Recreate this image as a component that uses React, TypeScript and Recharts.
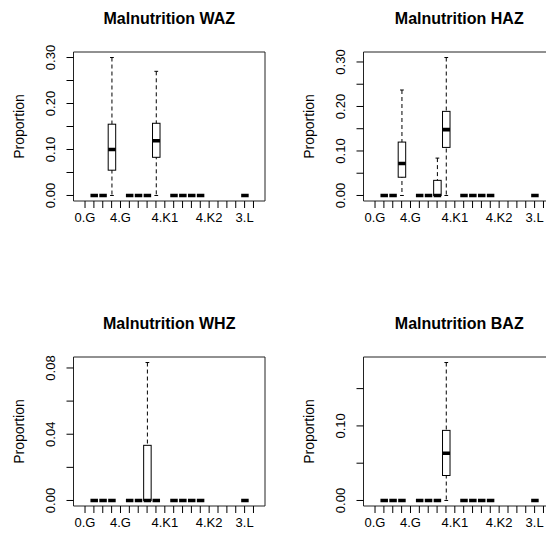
import { ComposedChart, Bar, XAxis, YAxis, CartesianGrid } from 'recharts';

const n = null;

const categories = [
  '0.G', '1.G', '2.G', '3.G', '4.G',
  '0.K1', '1.K1', '2.K1', '3.K1', '4.K1',
  '0.K2', '1.K2', '2.K2', '3.K2', '4.K2',
  '0.L', '1.L', '2.L', '3.L', '4.L'
];
const shownLabels = ['0.G', '4.G', '4.K1', '4.K2', '3.L'];

// five-number summaries per category (null = no observations)
const wazMin = [n, 0, 0, 0, n, 0, 0, 0, 0, n, 0, 0, 0, 0, n, n, n, n, 0, n];
const wazQ1 = [n, 0, 0, 0.055, n, 0, 0, 0, 0.083, n, 0, 0, 0, 0, n, n, n, n, 0, n];
const wazMed = [n, 0, 0, 0.1, n, 0, 0, 0, 0.119, n, 0, 0, 0, 0, n, n, n, n, 0, n];
const wazQ3 = [n, 0, 0, 0.155, n, 0, 0, 0, 0.157, n, 0, 0, 0, 0, n, n, n, n, 0, n];
const wazMax = [n, 0, 0, 0.3, n, 0, 0, 0, 0.27, n, 0, 0, 0, 0, n, n, n, n, 0, n];

const hazMin = [n, 0, 0, 0, n, 0, 0, 0, 0, n, 0, 0, 0, 0, n, n, n, n, 0, n];
const hazQ1 = [n, 0, 0, 0.041, n, 0, 0, 0, 0.108, n, 0, 0, 0, 0, n, n, n, n, 0, n];
const hazMed = [n, 0, 0, 0.072, n, 0, 0, 0, 0.148, n, 0, 0, 0, 0, n, n, n, n, 0, n];
const hazQ3 = [n, 0, 0, 0.12, n, 0, 0, 0.034, 0.189, n, 0, 0, 0, 0, n, n, n, n, 0, n];
const hazMax = [n, 0, 0, 0.237, n, 0, 0, 0.084, 0.31, n, 0, 0, 0, 0, n, n, n, n, 0, n];

const whzMin = [n, 0, 0, 0, n, 0, 0, 0, 0, n, 0, 0, 0, 0, n, n, n, n, 0, n];
const whzQ1 = [n, 0, 0, 0, n, 0, 0, 0, 0, n, 0, 0, 0, 0, n, n, n, n, 0, n];
const whzMed = [n, 0, 0, 0, n, 0, 0, 0, 0, n, 0, 0, 0, 0, n, n, n, n, 0, n];
const whzQ3 = [n, 0, 0, 0, n, 0, 0, 0.0333, 0, n, 0, 0, 0, 0, n, n, n, n, 0, n];
const whzMax = [n, 0, 0, 0, n, 0, 0, 0.0833, 0, n, 0, 0, 0, 0, n, n, n, n, 0, n];

const bazMin = [n, 0, 0, 0, n, 0, 0, 0, 0, n, 0, 0, 0, 0, n, n, n, n, 0, n];
const bazQ1 = [n, 0, 0, 0, n, 0, 0, 0, 0.0335, n, 0, 0, 0, 0, n, n, n, n, 0, n];
const bazMed = [n, 0, 0, 0, n, 0, 0, 0, 0.0634, n, 0, 0, 0, 0, n, n, n, n, 0, n];
const bazQ3 = [n, 0, 0, 0, n, 0, 0, 0, 0.094, n, 0, 0, 0, 0, n, n, n, n, 0, n];
const bazMax = [n, 0, 0, 0, n, 0, 0, 0, 0.185, n, 0, 0, 0, 0, n, n, n, n, 0, n];

const wazTicks = [0, 0.05, 0.1, 0.15, 0.2, 0.25, 0.3];
const wazLabels = [0, 0.1, 0.2, 0.3];
const hazTicks = [0, 0.05, 0.1, 0.15, 0.2, 0.25, 0.3];
const hazLabels = [0, 0.1, 0.2, 0.3];
const whzTicks = [0, 0.02, 0.04, 0.06, 0.08];
const whzLabels = [0, 0.04, 0.08];
const bazTicks = [0, 0.05, 0.1, 0.15];
const bazLabels = [0, 0.1];

const FONT = '"Liberation Sans", Arial, Helvetica, sans-serif';
const W = 290;
const H = 305;
const M = { top: 52, right: 25, left: 0, bottom: 74 };
const Y_W = 73.5;

const BoxShape = (props: any) => {
  const { x, y, width, height, payload } = props;
  if (!payload || payload.max == null || !Number.isFinite(y) || !Number.isFinite(x)) return <g />;
  const { min, q1, med, q3, max } = payload;
  const hgt = Number.isFinite(height) ? height : 0;
  const top = Math.min(y, y + hgt);
  const bot = Math.max(y, y + hgt);
  const span = max - min;
  const py = (v: number) => (span > 0 ? bot - ((bot - top) * (v - min)) / span : bot);
  const cx = x + width / 2;
  const half = width / 4;
  return (
    <g>
      <line x1={cx} x2={cx} y1={py(max)} y2={py(min)} stroke="#000" strokeDasharray="4 3" />
      <line x1={cx - half} x2={cx + half} y1={py(max)} y2={py(max)} stroke="#000" />
      <line x1={cx - half} x2={cx + half} y1={py(min)} y2={py(min)} stroke="#000" />
      <rect x={x} y={py(q3)} width={width} height={py(q1) - py(q3)} fill="#fff" stroke="#000" />
      <line x1={x} x2={x + width} y1={py(med)} y2={py(med)} stroke="#000" strokeWidth={3.6} />
    </g>
  );
};

const YTick = (props: any) => {
  const { x, y, payload, labels } = props;
  const v = payload.value;
  if (!labels.some((l: number) => Math.abs(l - v) < 1e-9)) return <g />;
  const bx = x - 9;
  return (
    <text x={bx} y={y} transform={`rotate(-90, ${bx}, ${y})`} textAnchor="middle" fill="#000" fontSize={13} fontFamily={FONT}>
      {v.toFixed(2)}
    </text>
  );
};

function Panel(props: any) {
  const { title, left, top, min, q1, med, q3, max, ticks, labels } = props;
  const data = categories.map((cat, i) => ({
    cat,
    range: max[i] == null ? null : [min[i], max[i]],
    min: min[i],
    q1: q1[i],
    med: med[i],
    q3: q3[i],
    max: max[i]
  }));
  const yMax = Math.max(...max.filter((v: number | null) => v != null));
  const domain = [-0.04 * yMax, 1.04 * yMax];
  const plotW = W - Y_W - M.right;
  const unit = plotW / 21.6;

  return (
    <div style={{ position: 'absolute', left, top, width: W, height: H }}>
      <div
        style={{
          position: 'absolute',
          left: Y_W,
          top: 10.5,
          width: plotW,
          textAlign: 'center',
          fontWeight: 'bold',
          fontSize: 16,
          lineHeight: '16px',
          fontFamily: FONT,
          color: '#000'
        }}
      >
        {title}
      </div>
      <ComposedChart width={W} height={H} data={data} margin={M}>
        <CartesianGrid
          stroke="#222"
          horizontalCoordinatesGenerator={(p: any) => [p.offset.top, p.offset.top + p.offset.height]}
          verticalCoordinatesGenerator={(p: any) => [p.offset.left, p.offset.left + p.offset.width]}
        />
        <XAxis
          dataKey="cat"
          type="category"
          interval={0}
          padding={{ left: unit * 0.8, right: unit * 0.8 }}
          axisLine={false}
          tickLine={{ stroke: '#000' }}
          tickSize={7}
          tickMargin={5}
          height={30}
          tick={{ fill: '#000', fontSize: 13, fontFamily: FONT }}
          tickFormatter={(c: string) => (shownLabels.includes(c) ? c : '')}
        />
        <YAxis
          type="number"
          domain={domain}
          allowDataOverflow
          ticks={ticks}
          interval={0}
          width={Y_W}
          axisLine={false}
          tickLine={{ stroke: '#000' }}
          tickSize={7}
          tickMargin={2}
          tick={(p: any) => <YTick {...p} labels={labels} />}
          label={{
            value: 'Proportion',
            content: (lp: any) => {
              const vb = lp.viewBox || { x: 0, y: M.top, height: H - M.top - M.bottom - 30 };
              const bx = vb.x + 23.5;
              const cy = vb.y + vb.height / 2;
              return (
                <text x={bx} y={cy} transform={`rotate(-90, ${bx}, ${cy})`} textAnchor="middle" fill="#000" fontSize={14} fontFamily={FONT}>
                  Proportion
                </text>
              );
            }
          }}
        />
        <Bar dataKey="range" barSize={7.5} shape={BoxShape} isAnimationActive={false} />
      </ComposedChart>
    </div>
  );
}

export default function App() {
  return (
    <div
      style={{
        position: 'absolute',
        left: 0,
        top: 0,
        width: 546,
        height: 543,
        overflow: 'hidden',
        background: '#fff'
      }}
    >
      <Panel title="Malnutrition WAZ" left={0} top={0} min={wazMin} q1={wazQ1} med={wazMed} q3={wazQ3} max={wazMax} ticks={wazTicks} labels={wazLabels} />
      <Panel title="Malnutrition HAZ" left={W} top={0} min={hazMin} q1={hazQ1} med={hazMed} q3={hazQ3} max={hazMax} ticks={hazTicks} labels={hazLabels} />
      <Panel title="Malnutrition WHZ" left={0} top={H} min={whzMin} q1={whzQ1} med={whzMed} q3={whzQ3} max={whzMax} ticks={whzTicks} labels={whzLabels} />
      <Panel title="Malnutrition BAZ" left={W} top={H} min={bazMin} q1={bazQ1} med={bazMed} q3={bazQ3} max={bazMax} ticks={bazTicks} labels={bazLabels} />
    </div>
  );
}
